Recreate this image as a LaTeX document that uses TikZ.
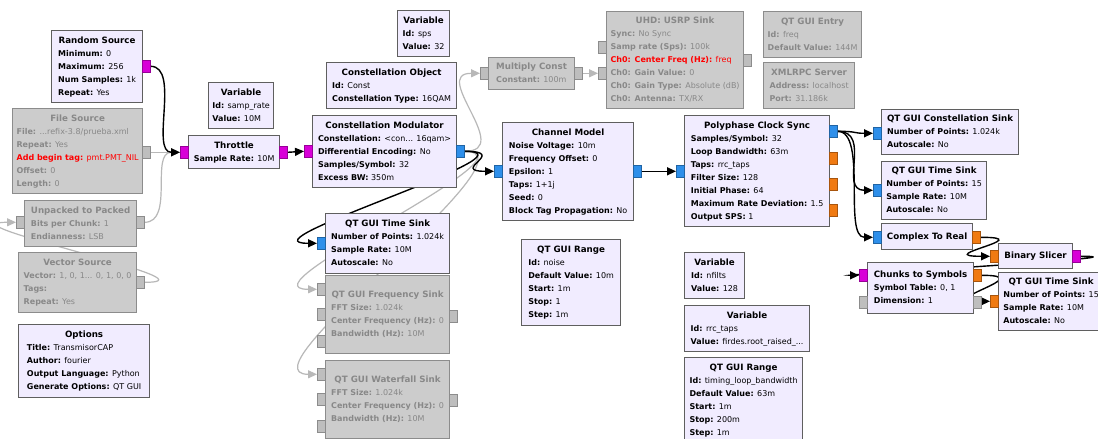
\documentclass[tikz,border=0pt]{standalone}
\usepackage{fontspec}
\setmainfont{DejaVu Sans}
\usetikzlibrary{arrows.meta}
\definecolor{blkfill}{HTML}{F1ECFF}
\definecolor{blkdraw}{HTML}{5F5F5F}
\definecolor{offfill}{HTML}{CCCCCC}
\definecolor{offdraw}{HTML}{8C8C8C}
\definecolor{offtext}{HTML}{888888}
\definecolor{wiregray}{HTML}{B8B8B8}
\definecolor{portmag}{HTML}{D800D8}
\definecolor{portblue}{HTML}{2E8FEA}
\definecolor{portorange}{HTML}{F07A12}
\definecolor{portgray}{HTML}{BEBEBE}
\pgfdeclarelayer{wires}
\pgfsetlayers{wires,main}
\newcommand{\kv}[2]{\textbf{#1:} #2}
\newcommand{\kvred}[2]{\textcolor{red}{\textbf{#1:} #2}}
\newcommand{\titlefont}{\fontsize{8.7}{13}\selectfont\bfseries}
\newcommand{\blocktext}[2]{\begin{tabular}{@{}l@{}}\multicolumn{1}{@{}c@{}}{\titlefont #1}\\#2\end{tabular}}
\tikzset{
  blkbase/.style={anchor=north west, inner sep=0pt, line width=1.2pt, font=\fontsize{8}{13}\selectfont},
  blk/.style={blkbase, draw=blkdraw, fill=blkfill, text=black},
  blkoff/.style={blkbase, draw=offdraw, fill=offfill, text=offtext},
  sz/.style 2 args={minimum width=#1pt, minimum height=#2pt},
  port/.style={anchor=north west, inner sep=0pt, minimum width=8pt, minimum height=12pt, line width=0.6pt},
  pmag/.style={port, draw=portmag!70!black, fill=portmag},
  pblue/.style={port, draw=portblue!70!black, fill=portblue},
  porange/.style={port, draw=portorange!70!black, fill=portorange},
  pgray/.style={port, draw=offdraw, fill=portgray},
  wire/.style={line width=1.4pt, draw=black, -{Triangle[length=9pt,width=8pt]}},
  wireoff/.style={line width=1.2pt, draw=wiregray, -{Triangle[length=9pt,width=8pt]}}
}

\begin{document}
\begin{tikzpicture}[x=1pt,y=-1pt]
\useasboundingbox (0,0) rectangle (1098,439);
\clip (0,0) rectangle (1098,439);

% Sources and throttle
\node[blk, sz={91}{72}] (rand) at (51,30) {\blocktext{Random Source}{\kv{Minimum}{0}\\\kv{Maximum}{256}\\\kv{Num Samples}{1k}\\\kv{Repeat}{Yes}}};
\node[blk, sz={65}{46}] (samprate) at (208,82) {\blocktext{Variable}{\kv{Id}{samp\_rate}\\\kv{Value}{10M}}};
\node[blkoff, sz={130}{85}] (fsrc) at (12,108) {\blocktext{File Source}{\kv{File}{...refix-3.8/prueba.xml}\\\kv{Repeat}{Yes}\\\kvred{Add begin tag}{pmt.PMT\_NIL}\\\kv{Offset}{0}\\\kv{Length}{0}}};
\node[blk, sz={91}{33}] (thr) at (188,135) {\blocktext{Throttle}{\kv{Sample Rate}{10M}}};
\node[blkoff, sz={112}{46}] (unp) at (24,200) {\blocktext{Unpacked to Packed}{\kv{Bits per Chunk}{1}\\\kv{Endianness}{LSB}}};
\node[blkoff, sz={118}{60}] (vsrc) at (18,252) {\blocktext{Vector Source}{\kv{Vector}{1, 0, 1... 0, 1, 0, 0}\\\kv{Tags}{}\\\kv{Repeat}{Yes}}};
\node[blk, sz={131}{73}] (opts) at (18,324) {\blocktext{Options}{\kv{Title}{TransmisorCAP}\\\kv{Author}{fourier}\\\kv{Output Language}{Python}\\\kv{Generate Options}{QT GUI}}};

% Modulator column
\node[blk, sz={52}{46}] (sps) at (397,10) {\blocktext{Variable}{\kv{Id}{sps}\\\kv{Value}{32}}};
\node[blk, sz={130}{46}] (cobj) at (326,62) {\blocktext{Constellation Object}{\kv{Id}{Const}\\\kv{Constellation Type}{16QAM}}};
\node[blk, sz={144}{72}] (cmod) at (312,115) {\blocktext{Constellation Modulator}{\kv{Constellation}{<con... 16qam>}\\\kv{Differential Encoding}{No}\\\kv{Samples/Symbol}{32}\\\kv{Excess BW}{350m}}};
\node[blk, sz={124}{60}] (ts1) at (325,213) {\blocktext{QT GUI Time Sink}{\kv{Number of Points}{1.024k}\\\kv{Sample Rate}{10M}\\\kv{Autoscale}{No}}};
\node[blkoff, sz={124}{78}] (fsink) at (325,275) {\blocktext{QT GUI Frequency Sink}{\kv{FFT Size}{1.024k}\\\kv{Center Frequency (Hz)}{0}\\\kv{Bandwidth (Hz)}{10M}}};
\node[blkoff, sz={124}{78}] (wsink) at (325,360) {\blocktext{QT GUI Waterfall Sink}{\kv{FFT Size}{1.024k}\\\kv{Center Frequency (Hz)}{0}\\\kv{Bandwidth (Hz)}{10M}}};

% Hardware path
\node[blkoff, sz={86}{32}] (mulc) at (488,57) {\blocktext{Multiply Const}{\kv{Constant}{100m}}};
\node[blkoff, sz={137}{97}] (usrp) at (606,11) {\blocktext{UHD: USRP Sink}{\kv{Sync}{No Sync}\\\kv{Samp rate (Sps)}{100k}\\\kvred{Ch0: Center Freq (Hz)}{freq}\\\kv{Ch0: Gain Value}{0}\\\kv{Ch0: Gain Type}{Absolute (dB)}\\\kv{Ch0: Antenna}{TX/RX}}};
\node[blkoff, sz={98}{46}] (qent) at (763,11) {\blocktext{QT GUI Entry}{\kv{Id}{freq}\\\kv{Default Value}{144M}}};
\node[blkoff, sz={91}{46}] (xmlrpc) at (763,62) {\blocktext{XMLRPC Server}{\kv{Address}{localhost}\\\kv{Port}{31.186k}}};

% Channel and clock recovery
\node[blk, sz={131}{98}] (chan) at (502,122) {\blocktext{Channel Model}{\kv{Noise Voltage}{10m}\\\kv{Frequency Offset}{0}\\\kv{Epsilon}{1}\\\kv{Taps}{1+1j}\\\kv{Seed}{0}\\\kv{Block Tag Propagation}{No}}};
\node[blk, sz={145}{111}] (pcs) at (684,115) {\blocktext{Polyphase Clock Sync}{\kv{Samples/Symbol}{32}\\\kv{Loop Bandwidth}{63m}\\\kv{Taps}{rrc\_taps}\\\kv{Filter Size}{128}\\\kv{Initial Phase}{64}\\\kv{Maximum Rate Deviation}{1.5}\\\kv{Output SPS}{1}}};
\node[blk, sz={99}{86}] (rnoise) at (521,239) {\blocktext{QT GUI Range}{\kv{Id}{noise}\\\kv{Default Value}{10m}\\\kv{Start}{1m}\\\kv{Stop}{1}\\\kv{Step}{1m}}};
\node[blk, sz={60}{46}] (nfilts) at (684,252) {\blocktext{Variable}{\kv{Id}{nfilts}\\\kv{Value}{128}}};
\node[blk, sz={125}{46}] (rrc) at (684,305) {\blocktext{Variable}{\kv{Id}{rrc\_taps}\\\kv{Value}{firdes.root\_raised\_...}}};
\node[blk, sz={118}{85}] (rtim) at (684,357) {\blocktext{QT GUI Range}{\kv{Id}{timing\_loop\_bandwidth}\\\kv{Default Value}{63m}\\\kv{Start}{1m}\\\kv{Stop}{200m}\\\kv{Step}{1m}}};

% Receiver sinks
\node[blk, sz={137}{45}] (csink) at (881,109) {\blocktext{QT GUI Constellation Sink}{\kv{Number of Points}{1.024k}\\\kv{Autoscale}{No}}};
\node[blk, sz={105}{58}] (ts2) at (881,161) {\blocktext{QT GUI Time Sink}{\kv{Number of Points}{15}\\\kv{Sample Rate}{10M}\\\kv{Autoscale}{No}}};
\node[blk, sz={91}{26}] (c2r) at (881,223) {\titlefont Complex To Real};
\node[blk, sz={74}{25}] (bsl) at (998,243) {\titlefont Binary Slicer};
\node[blk, sz={106}{51}] (c2s) at (867,262) {\blocktext{Chunks to Symbols}{\kv{Symbol Table}{0, 1}\\\kv{Dimension}{1}}};
\node[blk, sz={105}{58}] (ts3) at (998,272) {\blocktext{QT GUI Time Sink}{\kv{Number of Points}{15}\\\kv{Sample Rate}{10M}\\\kv{Autoscale}{No}}};

% Ports
\node[pmag] (rand-out) at (142,60) {};
\node[pgray] (fsrc-out) at (142,146) {};
\node[pmag] (thr-in) at (180,146) {};
\node[pmag] (thr-out) at (279,146) {};
\node[pgray] (unp-in) at (16,216) {};
\node[pgray] (unp-out) at (136,216) {};
\node[pgray] (vsrc-out) at (136,276) {};
\node[pmag] (cmod-in) at (304,145) {};
\node[pblue] (cmod-out) at (456,145) {};
\node[pblue] (ts1-in) at (317,237) {};
\node[pgray] (fsink-in0) at (317,283) {};
\node[pgray] (fsink-in1) at (317,308) {};
\node[pgray] (fsink-in2) at (317,335) {};
\node[pgray] (fsink-out) at (449,310) {};
\node[pgray] (wsink-in0) at (317,368) {};
\node[pgray] (wsink-in1) at (317,393) {};
\node[pgray] (wsink-in2) at (317,420) {};
\node[pgray] (wsink-out) at (449,394) {};
\node[pgray] (mulc-in) at (480,67) {};
\node[pgray] (mulc-out) at (574,67) {};
\node[pgray] (usrp-in0) at (598,41) {};
\node[pgray] (usrp-in1) at (598,67) {};
\node[pgray] (usrp-out) at (743,54) {};
\node[pblue] (chan-in) at (494,165) {};
\node[pblue] (chan-out) at (633,165) {};
\node[pblue] (pcs-in) at (676,165) {};
\node[pblue] (pcs-out0) at (829,125) {};
\node[porange] (pcs-out1) at (829,152) {};
\node[porange] (pcs-out2) at (829,178) {};
\node[porange] (pcs-out3) at (829,204) {};
\node[pblue] (csink-in) at (873,127) {};
\node[pblue] (ts2-in) at (873,184) {};
\node[pblue] (c2r-in) at (873,231) {};
\node[porange] (c2r-out) at (972,231) {};
\node[porange] (bsl-in) at (990,250) {};
\node[pmag] (bsl-out) at (1072,250) {};
\node[pmag] (c2s-in) at (859,269) {};
\node[pgray] (c2s-in1) at (859,296) {};
\node[porange] (c2s-out) at (973,269) {};
\node[pgray] (c2s-out1) at (973,296) {};
\node[porange] (ts3-in) at (990,295) {};

% Connections, behind the blocks
\begin{pgfonlayer}{wires}
\fill[white] (0,0) rectangle (1098,439);
\draw[wireoff] (fsrc-out.east) -- (thr-in.west);
\draw[wireoff] (unp-out.east) .. controls +(30,0) and +(-30,0) .. (thr-in.west);
\draw[wireoff] (vsrc-out.east) .. controls +(80,0) and +(-80,0) .. (unp-in.west);
\draw[wireoff] (cmod-out.east) .. controls +(50,0) and +(-50,0) .. (mulc-in.west);
\draw[wireoff] (cmod-out.east) .. controls +(80,0) and +(-80,0) .. (fsink-in0.west);
\draw[wireoff] (cmod-out.east) .. controls +(80,0) and +(-80,0) .. (wsink-in0.west);
\draw[wireoff] (mulc-out.east) -- (usrp-in1.west);
\draw[wire] (rand-out.east) .. controls +(30,0) and +(-30,0) .. (thr-in.west);
\draw[wire] (thr-out.east) -- (cmod-in.west);
\draw[wire] (cmod-out.east) .. controls +(45,0) and +(-45,0) .. (chan-in.west);
\draw[wire] (cmod-out.east) .. controls +(80,0) and +(-80,0) .. (ts1-in.west);
\draw[wire] (chan-out.east) -- (pcs-in.west);
\draw[wire] (pcs-out0.east) .. controls +(20,0) and +(-20,0) .. (csink-in.west);
\draw[wire] (pcs-out0.east) .. controls +(35,0) and +(-35,0) .. (ts2-in.west);
\draw[wire] (pcs-out0.east) .. controls +(30,0) and +(-30,0) .. (c2r-in.west);
\draw[wire] (c2r-out.east) .. controls +(60,0) and +(-60,0) .. (bsl-in.west);
\draw[wire] (bsl-out.east) .. controls +(80,0) and +(-25,0) .. (c2s-in.west);
\draw[wire] (c2s-out.east) .. controls +(60,0) and +(-60,0) .. (ts3-in.west);
\end{pgfonlayer}
\end{tikzpicture}
\end{document}
